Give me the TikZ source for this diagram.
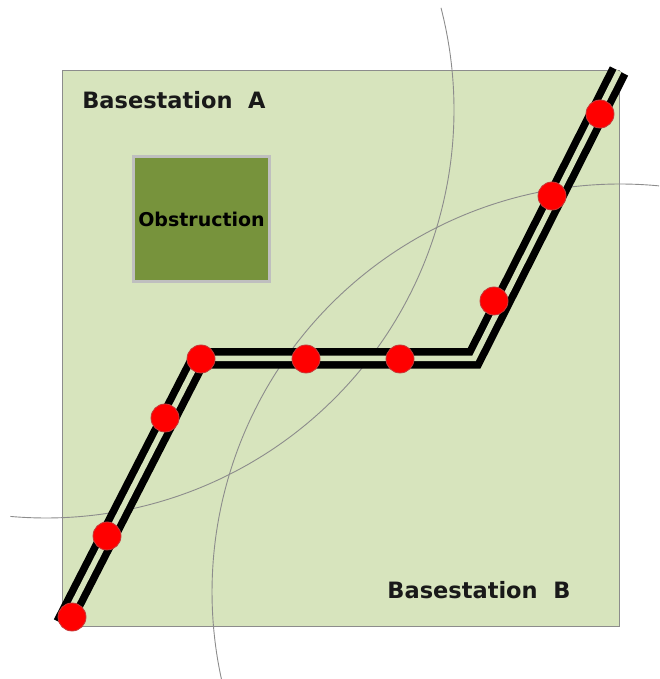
\documentclass[tikz,border=0pt]{standalone}
\usepackage{fontspec}
\setmainfont{DejaVu Sans}
\definecolor{fieldgreen}{HTML}{D7E4BD}
\definecolor{blockgreen}{HTML}{77933C}
\definecolor{rimgray}{HTML}{BFBFBF}
\definecolor{edgegray}{HTML}{8C8C8C}
\tikzset{
  fieldbox/.style={fill=fieldgreen,draw=edgegray,line width=0.9},
  coverarc/.style={draw=edgegray,line width=0.9},
  obstacle/.style={fill=blockgreen,draw=rimgray,line width=3,inner sep=0,
    minimum width=136,minimum height=125,font=\fontsize{19}{21}\selectfont\bfseries},
  track/.style={line width=7.5,double=fieldgreen,double distance=5.5,line join=miter},
  stopdot/.style={circle,fill=red,draw=red!55!gray,line width=0.8,minimum size=28,inner sep=0},
  stationtext/.style={font=\fontsize{22.5}{25}\selectfont\bfseries,text=black!90}
}
\begin{document}
\begin{tikzpicture}[x=1pt,y=1pt]
\useasboundingbox (0,0) rectangle (659,679);
\draw[fieldbox] (62,53) rectangle (619,609);

\draw[coverarc] (46,569) ++(14.5:408) arc[start angle=14.5,end angle=-95,radius=408];
\draw[coverarc] (620,87) ++(84.5:408) arc[start angle=84.5,end angle=192.3,radius=408];

\node[obstacle] (obs) at (201.5,460) {Obstruction};

\coordinate (t0) at (63,55);
\coordinate (t1) at (199,320.5);
\coordinate (t2) at (474,320.5);
\coordinate (t3) at (619,608);
\draw[track] (t0) -- (t1) -- (t2) -- (t3);

\foreach \n/\p in {1/{72,62},2/{107,143},3/{165,261},4/{201,320},5/{306,320},
  6/{400,320},7/{494,378},8/{552,483},9/{600,565}}
  \node[stopdot] (s\n) at (\p) {};

\node[stationtext] (bsa) at (174,579) {Basestation\ \ A};
\node[stationtext] (bsb) at (479,89) {Basestation\ \ B};
\end{tikzpicture}
\end{document}
